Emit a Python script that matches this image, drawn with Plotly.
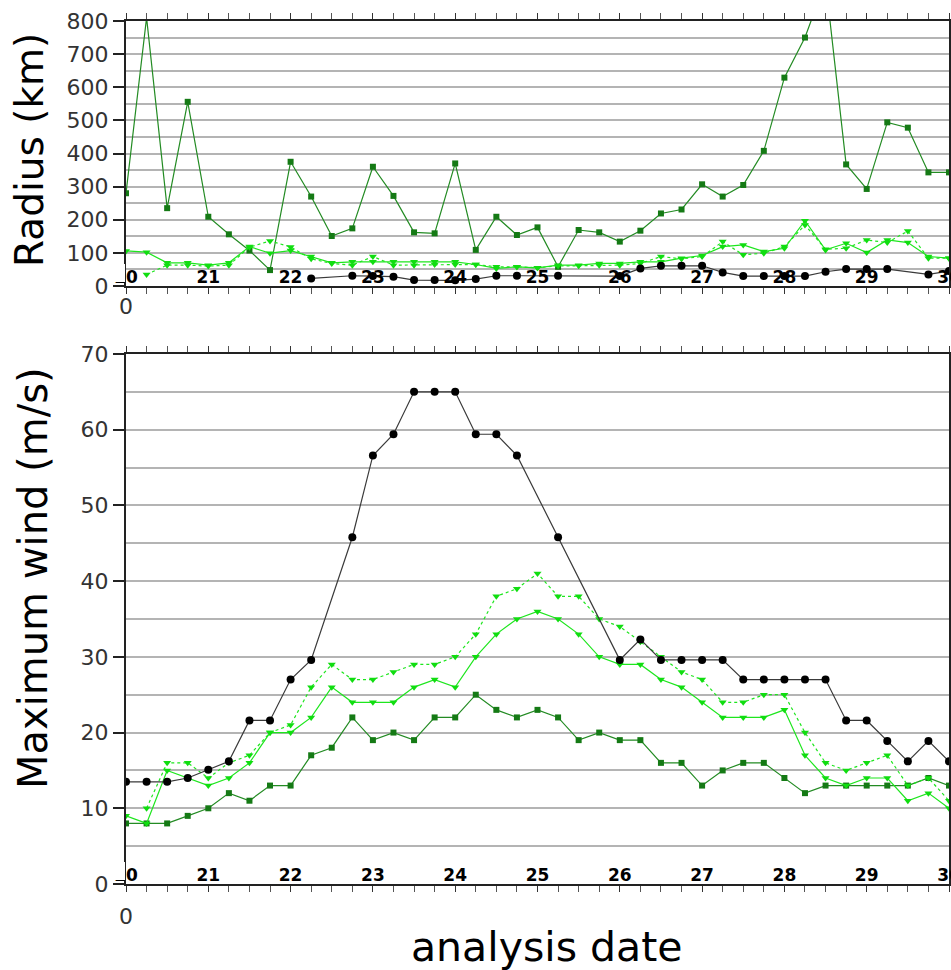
import plotly.graph_objects as go

# analysis time (day of month, 6-hourly)
analysis_day = [20.0, 20.25, 20.5, 20.75, 21.0, 21.25, 21.5, 21.75, 22.0, 22.25,
                22.5, 22.75, 23.0, 23.25, 23.5, 23.75, 24.0, 24.25, 24.5, 24.75,
                25.0, 25.25, 25.5, 25.75, 26.0, 26.25, 26.5, 26.75, 27.0, 27.25,
                27.5, 27.75, 28.0, 28.25, 28.5, 28.75, 29.0, 29.25, 29.5, 29.75, 30.0]

day_ticks = [20, 21, 22, 23, 24, 25, 26, 27, 28, 29, 30]
day_labels = ["20", "21", "22", "23", "24", "25", "26", "27", "28", "29", "30"]
radius_ticks = [0, 100, 200, 300, 400, 500, 600, 700, 800]
wind_ticks = [0, 10, 20, 30, 40, 50, 60, 70]

# Radius (km)
radius_black = [None, None, None, None, None, None, None, None, None, 23,
                None, 31, 30, 28, 18, 18, 17, 21, 31, 31,
                None, 31, None, None, 30, 53, 61, 61, 61, 41,
                30, 30, 30, 30, 43, 51, 51, 51, None, 35, 45]
radius_darkgreen = [280, 810, 235, 556, 209, 156, 107, 48, 375, 270,
                    151, 174, 360, 272, 162, 159, 370, 109, 209, 154,
                    177, 58, 169, 162, 134, 167, 219, 231, 307, 270,
                    305, 408, 629, 750, 920, 367, 293, 494, 478, 343, 343]
radius_green = [106, 102, 70, 70, 63, 70, 119, 99, 107, 89,
                70, 73, 73, 73, 73, 73, 73, 65, 53, 58,
                55, 63, 63, 68, 68, 73, 73, 84, 92, 119,
                124, 104, 114, 197, 109, 129, 101, 139, 131, 89, 84]
radius_green_dot = [None, 35, 63, 63, 60, 63, 117, 136, 118, 82,
                    68, 63, 89, 63, 63, 65, 65, 65, 58, 58,
                    55, 61, 61, 63, 63, 68, 89, 82, 89, 134,
                    94, 99, 119, 184, 111, 114, 139, 131, 166, 84, 84]

# Maximum wind (m/s)
wind_black = [13.5, 13.5, 13.5, 14.0, 15.1, 16.2, 21.6, 21.6, 27.0, 29.6,
              None, 45.8, 56.6, 59.4, 65, 65, 65, 59.4, 59.4, 56.6,
              None, 45.8, None, None, 29.6, 32.3, 29.6, 29.6, 29.6, 29.6,
              27.0, 27.0, 27.0, 27.0, 27.0, 21.6, 21.6, 18.9, 16.2, 18.9, 16.2]
wind_darkgreen = [8, 8, 8, 9, 10, 12, 11, 13, 13, 17,
                  18, 22, 19, 20, 19, 22, 22, 25, 23, 22,
                  23, 22, 19, 20, 19, 19, 16, 16, 13, 15,
                  16, 16, 14, 12, 13, 13, 13, 13, 13, 14, 13]
wind_green = [9, 8, 15, 14, 13, 14, 16, 20, 20, 22,
              26, 24, 24, 24, 26, 27, 26, 30, 33, 35,
              36, 35, 33, 30, 29, 29, 27, 26, 24, 22,
              22, 22, 23, 17, 14, 13, 14, 14, 11, 12, 10]
wind_green_dot = [None, 10, 16, 16, 14, 16, 17, 20, 21, 26,
                  29, 27, 27, 28, 29, 29, 30, 33, 38, 39,
                  41, 38, 38, 35, 34, 32, 30, 28, 27, 24,
                  24, 25, 25, 20, 16, 15, 16, 17, 13, 14, 11]

BLACK_LINE = "#3a3a3a"
DARK_GREEN = "#238b23"
GREEN = "#1ee61e"

series = [
    ("dark", radius_darkgreen, wind_darkgreen, dict(color=DARK_GREEN, width=1.2, dash="solid"),
     dict(symbol="square", size=6, color="#157a15")),
    ("green", radius_green, wind_green, dict(color=GREEN, width=1.2, dash="solid"),
     dict(symbol="triangle-down", size=7, color="#10dd10")),
    ("greendot", radius_green_dot, wind_green_dot, dict(color=GREEN, width=1.2, dash="dot"),
     dict(symbol="triangle-down", size=7, color="#10dd10")),
    ("black", radius_black, wind_black, dict(color=BLACK_LINE, width=1.2, dash="solid"),
     dict(symbol="circle", size=8, color="black")),
]

fig = go.Figure()
for name, rad, wind, line, marker in series:
    fig.add_trace(go.Scatter(x=analysis_day, y=rad, mode="lines+markers", line=line,
                             marker=marker, connectgaps=True, xaxis="x", yaxis="y",
                             showlegend=False, name=name))
    fig.add_trace(go.Scatter(x=analysis_day, y=wind, mode="lines+markers", line=line,
                             marker=marker, connectgaps=True, xaxis="x2", yaxis="y2",
                             showlegend=False, name=name))

W, H = 951, 970
ML, MR, MT, MB = 126, 2, 21, 86
ph = H - MT - MB
pw = W - ML - MR
top_bottom_px = 286
bot_top_px = 354


def py(p):
    return (H - MB - p) / ph


def px(p):
    return (p - ML) / pw


tick_font = dict(family="DejaVu Sans", size=22, color="#333333")
day_font = dict(family="DejaVu Sans", size=17, color="black", weight="bold")

xcommon = dict(range=[20, 30], tickmode="array", tickvals=day_ticks, ticktext=day_labels,
               ticks="outside", ticklen=6, tickwidth=1.2, tickcolor="#333",
               ticklabelposition="inside", ticklabeloverflow="allow", tickfont=day_font,
               showline=True, linewidth=2, linecolor="#222", mirror="ticks",
               showgrid=False, zeroline=False, automargin=False,
               minor=dict(dtick=0.25, ticks="outside", ticklen=6, tickwidth=1.2,
                          tickcolor="#555", showgrid=False))

ycommon = dict(ticks="outside", ticklen=11, tickwidth=1.5, tickcolor="#222",
               tickfont=tick_font, showline=True, linewidth=2, linecolor="#222",
               mirror=True, showgrid=True, gridcolor="#b4b4b4", gridwidth=2,
               zeroline=False, tickmode="array", automargin=False)

fig.update_layout(
    width=W, height=H,
    margin=dict(l=ML, r=MR, t=MT, b=MB),
    paper_bgcolor="white", plot_bgcolor="white",
    xaxis=dict(anchor="y", domain=[0, 1], **xcommon),
    yaxis=dict(anchor="x", domain=[py(top_bottom_px), 1], range=[0, 800],
               tickvals=radius_ticks, ticktext=[str(v) for v in radius_ticks],
               minor=dict(dtick=50, showgrid=True, gridcolor="#b4b4b4", gridwidth=2),
               **ycommon),
    xaxis2=dict(anchor="y2", domain=[0, 1], **xcommon),
    yaxis2=dict(anchor="x2", domain=[0, py(bot_top_px)], range=[0, 70],
                tickvals=wind_ticks, ticktext=[str(v) for v in wind_ticks],
                minor=dict(dtick=5, showgrid=True, gridcolor="#b4b4b4", gridwidth=2),
                **ycommon),
    showlegend=False,
)

annotations = [
    dict(text="Radius (km)", xref="paper", yref="paper", x=px(29), y=py(150),
         textangle=-90, showarrow=False, font=dict(family="DejaVu Sans", size=39, color="black"),
         xanchor="center", yanchor="middle"),
    dict(text="Maximum wind (m/s)", xref="paper", yref="paper", x=px(33), y=py(578),
         textangle=-90, showarrow=False, font=dict(family="DejaVu Sans", size=40, color="black"),
         xanchor="center", yanchor="middle"),
    dict(text="analysis date", xref="paper", yref="paper", x=px(547), y=py(947),
         showarrow=False, font=dict(family="DejaVu Sans", size=41, color="black"),
         xanchor="center", yanchor="middle"),
    dict(text="0", xref="x", yref="paper", x=20, y=py(306), showarrow=False,
         font=tick_font, xanchor="center", yanchor="middle"),
    dict(text="0", xref="x2", yref="paper", x=20, y=py(916), showarrow=False,
         font=tick_font, xanchor="center", yanchor="middle"),
]
fig.update_layout(annotations=annotations)

# white masks emulating the clipping of the first day label at the plot's left edge
mask_rows = [(top_bottom_px, ), (884, )]
shapes = []
for (bottom_px,) in mask_rows:
    shapes.append(dict(type="rect", xref="paper", yref="paper", layer="above",
                       x0=px(112), x1=px(125), y0=py(bottom_px - 4), y1=py(bottom_px - 22),
                       fillcolor="white", line=dict(width=0)))
fig.update_layout(shapes=shapes)

fig.write_html("out.html", config={"displayModeBar": False},
               post_script="document.body.style.margin='0';")
